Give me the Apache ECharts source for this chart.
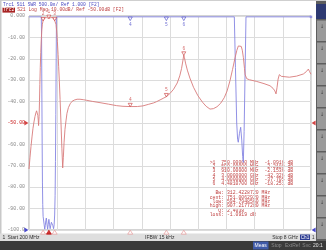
<!DOCTYPE html>
<html><head><meta charset="utf-8">
<script src="https://cdn.jsdelivr.net/npm/echarts@6/dist/echarts.min.js"></script>
<style>html,body{margin:0;padding:0;background:#fff}#c{width:326px;height:250px}</style>
</head><body><div id="c"></div>
<script>
// ---- data ----
const freqRed = [200,228,255,283,310,338,365,390,410,430,445,458,465,472,480,490,500,512,525,540,555,570,590,610,630,660,690,720,750,780,810,840,870,895,910,930,947,965,985,1005,1020,1038,1060,1085,1110,1132,1150,1170,1195,1223,1250,1290,1340,1390,1450,1530,1610,1700,1800,1950,2164,2400,2625,2800,3000,3200,3353,3500,3650,3732,3850,3930,4000,4100,4200,4300,4370,4420,4455,4481.07,4500,4530,4580,4650,4750,4870,5000,5100,5206,5300,5400,5500,5600,5680,5760,5830,5900,5950,5990,6030,6070,6100,6130,6160,6180,6222,6300,6500,6700,6866,6950,7000,7032,7060,7090,7124,7180,7235,7400,7600,7788,7870,7927,7960,8000];
const s21 = [-71.5,-66,-61,-56.5,-52.5,-49.5,-47,-45.3,-44.3,-44.8,-46.5,-49,-51.2,-50.5,-47,-40,-32,-24,-17,-11,-6.5,-3.8,-2.218,-1.4,-0.9,-0.6,-0.75,-1.0,-1.0916,-0.95,-0.7,-0.65,-0.9,-1.5,-2.1536,-3.0,-3.9,-7,-12,-18,-23.5,-30,-39,-50,-62,-71,-66,-59,-53,-49,-45.5,-42.8,-41,-39.9,-39.3,-38.9,-38.9,-39.1,-39.4,-39.9,-40.5,-41.2,-41.9,-42.2,-42.326,-42.3,-42,-41.3,-40.6,-40,-39,-38.3,-37.705,-36.2,-34.2,-31.3,-28,-24.5,-21,-18.251,-19.5,-22,-25.3,-29,-33.3,-37.2,-40.3,-42.2,-43.5,-43.3,-42.4,-40.8,-38.2,-35,-30.2,-25,-19.5,-16,-14,-13.5,-14.2,-16,-19.5,-24.5,-27.5,-29.3,-29.8,-30.6,-31.6,-32.6,-33.8,-35,-36.4,-33.5,-29.5,-27.4,-28.2,-28.6,-28.6,-28.1,-27.1,-26,-24.8,-26,-27.2];

const freqBlue = [200,540,548,556,564,572,580,590,605,620,635,650,665,680,700,715,730,750,770,785,800,820,840,860,880,895,910,922,932,942,952,960,5879,5910,5945,5970,5989,6020,6055,6085,6110,6128,6150,6175,6202,8000];
const swr = [5.98,5.98,5.5,4.2,3.0,2.1,1.6,1.32,1.28,1.12,1.02,1.1,1.22,1.28,1.12,1.02,1.12,1.25,1.12,1.03,1.1,1.18,1.2,1.1,1.03,1.12,1.35,1.8,2.6,3.7,5.0,5.98,5.98,4.8,3.5,3.12,3.05,3.25,3.4,3.1,2.72,2.58,3.3,4.6,5.98,5.98];

const markerNames = ['1','2','3','4','5','6'];
const markerFreq = [750,590,910,3000,4000,4481.07];
const markerS21 = [-1.0916,-2.2180,-2.1536,-42.326,-37.705,-18.251];
const blueTopMarkers = ['4','5','6'];
const blueTopFreq = [3000,4000,4481.07];
const blueTopSwr = [5.98,5.98,5.98];

const yTickLabels = ['0.000','-10.00','-20.00','-30.00','-40.00','-50.00','-60.00','-70.00','-80.00','-90.00','-100.0'];
const refS21 = -50, refSwr = 1;
const fStart = 200, fStop = 8000;

const titleLine1 = 'Trc1 S11 SWR 500.0m/ Ref 1.000 [F2]';
const titleLine2a = 'Trc2';
const titleLine2b = ' S21 Log Mag 10.00dB/ Ref -50.00dB [F2]';
const markerTable = [
  '>1  750.00000 MHz  -1.0916 dB',
  ' 2  590.00000 MHz  -2.2180 dB',
  ' 3  910.00000 MHz  -2.1536 dB',
  ' 4  3.0000000 GHz  -42.326 dB',
  ' 5  4.0000000 GHz  -37.705 dB',
  ' 6  4.4810700 GHz  -18.251 dB'
];
const bwTable = [
  '  Bw: 312.4228720 MHz',
  'cent: 751.0062920 MHz',
  ' low: 594.7948560 MHz',
  'high: 907.2177280 MHz',
  '   Q: 2.4038',
  'loss: -1.0919 dB'
];

// ---- chart ----
const RED = '#d87a7a', BLUE = '#8484e2';
const mono = '"Liberation Mono", "DejaVu Sans Mono", monospace';
const chart = echarts.init(document.getElementById('c'), null, {renderer:'canvas'});

const red = freqRed.map((f,i)=>[f,s21[i]]);
const blue = freqBlue.map((f,i)=>[f,swr[i]]);

const graphic = [
  {type:'rect', shape:{x:0,y:0,width:326,height:1}, style:{fill:'#cfcfcf'}, z:-1},
  {type:'rect', shape:{x:0,y:0,width:1.5,height:234}, style:{fill:'#c8c8c8'}},
  {type:'text', x:3, y:4.5, style:{text:titleLine1, fill:'#4848c0', font:'4.6px '+mono, verticalAlign:'middle'}},
  {type:'rect', shape:{x:2.5,y:7.6,width:12.5,height:5}, style:{fill:'#a82424'}},
  {type:'text', x:3, y:10.2, style:{text:titleLine2a, fill:'#ffffff', font:'4.7px '+mono, verticalAlign:'middle'}},
  {type:'text', x:14.4, y:10.2, style:{text:titleLine2b, fill:'#c04444', font:'4.7px '+mono, verticalAlign:'middle'}},
  {type:'text', x:209.7, y:160.3, style:{text:markerTable.join('\n'), fill:'#c04444', font:'4.8px '+mono, lineHeight:4.3}},
  {type:'text', x:209.7, y:190.7, style:{text:bwTable.join('\n'), fill:'#c04444', font:'4.8px '+mono, lineHeight:4.42}},
  // status bar
  {type:'rect', shape:{x:0,y:233.5,width:316,height:7.5}, style:{fill:'#dedede'}},
  {type:'text', x:2.5, y:237.4, style:{text:'1', fill:'#303030', font:'5px "Liberation Sans"', verticalAlign:'middle'}},
  {type:'text', x:7.5, y:237.4, style:{text:'Start 200 MHz', fill:'#303030', font:'5px "Liberation Sans"', verticalAlign:'middle'}},
  {type:'text', x:145, y:237.4, style:{text:'IFBW 15 kHz', fill:'#303030', font:'5px "Liberation Sans"', verticalAlign:'middle'}},
  {type:'text', x:298, y:237.4, style:{text:'Stop 8 GHz', fill:'#303030', font:'5px "Liberation Sans"', verticalAlign:'middle', align:'right'}},
  {type:'rect', shape:{x:300,y:234.5,width:10,height:5.5}, style:{fill:'#2f3f94'}},
  {type:'text', x:305, y:237.4, style:{text:'Ch1', fill:'#ffffff', font:'4.6px "Liberation Sans"', verticalAlign:'middle', align:'center'}},
  {type:'text', x:312, y:237.4, style:{text:'1', fill:'#303030', font:'4.6px "Liberation Sans"', verticalAlign:'middle'}},
  // bottom dark bar
  {type:'rect', shape:{x:0,y:241,width:326,height:9}, style:{fill:'#3a3a3a'}},
  {type:'rect', shape:{x:253,y:241.5,width:15.5,height:8}, style:{fill:'#3f5aa8'}},
  {type:'text', x:260.7, y:245.7, style:{text:'Meas', fill:'#ffffff', font:'5px "Liberation Sans"', verticalAlign:'middle', align:'center'}},
  {type:'text', x:276.5, y:245.7, style:{text:'Stop', fill:'#8a8a8a', font:'5px "Liberation Sans"', verticalAlign:'middle', align:'center'}},
  {type:'text', x:292.5, y:245.7, style:{text:'ExtRef', fill:'#8a8a8a', font:'5px "Liberation Sans"', verticalAlign:'middle', align:'center'}},
  {type:'text', x:306.5, y:245.7, style:{text:'Svc', fill:'#8a8a8a', font:'5px "Liberation Sans"', verticalAlign:'middle', align:'center'}},
  {type:'text', x:313, y:245.7, style:{text:'20:1', fill:'#e0e0e0', font:'5px "Liberation Sans"', verticalAlign:'middle'}},
  // right softkey strip
  {type:'rect', shape:{x:316,y:1,width:10,height:240}, style:{fill:'#5e5e5e'}},
  {type:'rect', shape:{x:316,y:4,width:10,height:15}, style:{fill:'#2e3a72'}}
];
for (let i=0;i<10;i++){
  graphic.push({type:'rect', shape:{x:317,y:20.5+i*22,width:9,height:20.5}, style:{fill:'#9a9a9a'}});
  graphic.push({type:'text', x:320, y:27+i*22, style:{text:'\u2193', fill:'#404040', font:'5px "DejaVu Sans"', verticalAlign:'middle'}});
}

const labelFont = {fontSize:4.5, fontFamily:mono};

const option = {
  animation:false,
  backgroundColor:'#ffffff',
  grid:{left:29, top:16, width:282, height:214, show:true, borderColor:'#a8a8a8', borderWidth:1, backgroundColor:'#ffffff'},
  xAxis:[
    {type:'value', min:fStart, max:fStop, show:false, splitLine:{show:false}},
    {type:'value', min:0, max:10, interval:1, position:'bottom', axisLine:{show:false}, axisTick:{show:false}, axisLabel:{show:false},
     splitLine:{show:true, lineStyle:{color:'#dcdcdc', width:1}}}
  ],
  yAxis:[
    {type:'value', min:-100, max:0, interval:10, axisLine:{show:false}, axisTick:{show:false},
     splitLine:{show:true, lineStyle:{color:'#dcdcdc', width:1}},
     axisLabel:{margin:4, fontSize:4.9, fontFamily:mono,
       formatter:(v)=>yTickLabels[Math.round(-v/10)],
       color:(v)=> (Math.round(v)===refS21 ? '#c82020' : '#888888')}},
    {type:'value', min:1, max:6, interval:0.5, show:false, splitLine:{show:false}}
  ],
  series:[
    {type:'line', name:'S21', xAxisIndex:0, yAxisIndex:0, data:red, showSymbol:false, clip:true,
     lineStyle:{color:RED, width:0.9}, z:3},
    {type:'line', name:'SWR', xAxisIndex:0, yAxisIndex:1, data:blue, showSymbol:false, clip:true,
     lineStyle:{color:BLUE, width:0.9}, z:2},
    // red trace markers
    {type:'scatter', xAxisIndex:0, yAxisIndex:0, data:markerFreq.map((f,i)=>({value:[f,markerS21[i]], name:markerNames[i]})),
     symbol:'triangle', symbolRotate:180, symbolSize:[4,3.5], symbolOffset:[0,-1.5], clip:false, silent:true,
     itemStyle:{color:'#ffffff', borderColor:'#c83c3c', borderWidth:0.8},
     label:{show:true, position:'top', distance:0.5, formatter:'{b}', color:'#c83c3c', ...labelFont}, z:6},
    // blue clipped markers at top
    {type:'scatter', xAxisIndex:0, yAxisIndex:1, data:blueTopFreq.map((f,i)=>({value:[f,blueTopSwr[i]], name:blueTopMarkers[i]})),
     symbol:'triangle', symbolRotate:180, symbolSize:[4,3.5], symbolOffset:[0,2], clip:false, silent:true,
     itemStyle:{color:'#ffffff', borderColor:'#4a4ac8', borderWidth:0.8},
     label:{show:true, position:'bottom', distance:1.5, formatter:'{b}', color:'#4a4ac8', ...labelFont}, z:6},
    // marker frequency indicators at bottom edge
    {type:'scatter', xAxisIndex:0, yAxisIndex:0, data:markerFreq.map((f,i)=>({value:[f,-100],
        itemStyle: i===0 ? {color:'#c00000', borderColor:'#c00000'} : {color:'#ffffff', borderColor:'#e49090'}})),
     symbol:'triangle', symbolSize:[5,4], symbolOffset:[0,2.2], clip:false, silent:true,
     itemStyle:{borderWidth:0.8}, z:6},
    // reference position arrows
    {type:'scatter', xAxisIndex:0, yAxisIndex:0, data:[[fStart,refS21]], symbol:'triangle', symbolRotate:-90, symbolSize:[5,4],
     symbolOffset:[-2.6,0], clip:false, silent:true, itemStyle:{color:'#c81818'}, z:7},
    {type:'scatter', xAxisIndex:0, yAxisIndex:0, data:[[fStop,refS21]], symbol:'triangle', symbolRotate:90, symbolSize:[5,4],
     symbolOffset:[2.6,0], clip:false, silent:true, itemStyle:{color:'#c81818'}, z:7},
    {type:'scatter', xAxisIndex:0, yAxisIndex:1, data:[[fStart,refSwr]], symbol:'triangle', symbolRotate:-90, symbolSize:[5,4],
     symbolOffset:[-2.6,0], clip:false, silent:true, itemStyle:{color:'#1c1cc0'}, z:7},
    {type:'scatter', xAxisIndex:0, yAxisIndex:1, data:[[fStop,refSwr]], symbol:'triangle', symbolRotate:90, symbolSize:[5,4],
     symbolOffset:[2.6,0], clip:false, silent:true, itemStyle:{color:'#1c1cc0'}, z:7},
    // trace end indicators
    {type:'scatter', xAxisIndex:0, yAxisIndex:1, data:[[fStop,swr[swr.length-1]]], symbol:'rect', symbolSize:2.5,
     clip:false, silent:true, itemStyle:{color:BLUE}, z:7},
    {type:'scatter', xAxisIndex:0, yAxisIndex:0, data:[{value:[fStop,s21[s21.length-1]], name:'2'}], symbol:'none',
     clip:false, silent:true, label:{show:true, position:'right', distance:0.5, formatter:'{b}', color:'#c83c3c', ...labelFont}, z:7}
  ],
  graphic: graphic
};
chart.setOption(option);
</script>
</body></html>
